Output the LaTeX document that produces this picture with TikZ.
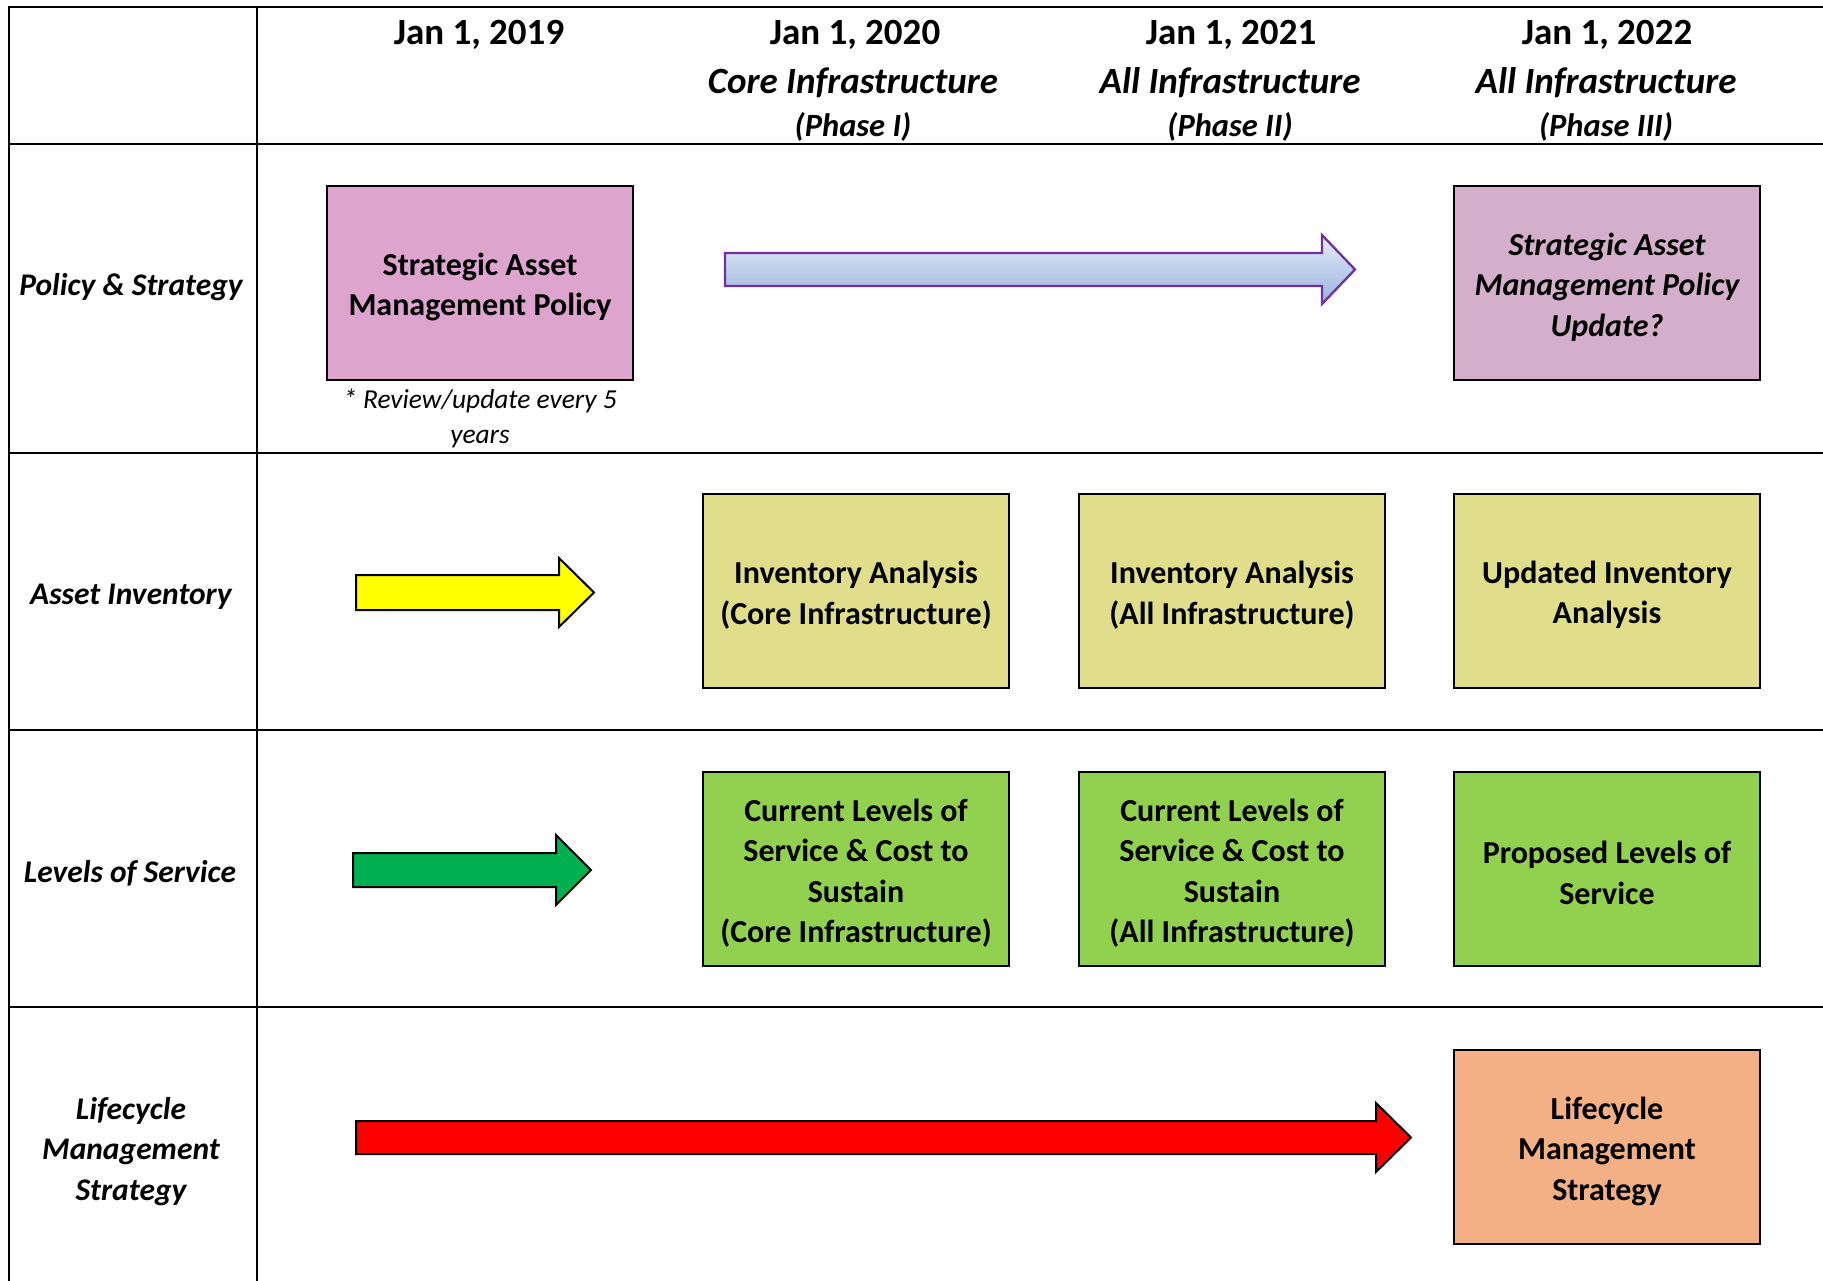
\documentclass[tikz,border=0pt]{standalone}
\usepackage{fontspec}
\setmainfont{Carlito}
\newcommand\bxfont{\fontsize{32}{40.5}\selectfont\bfseries}
\newcommand\hdfont{\fontsize{37}{44}\selectfont\bfseries}
\newcommand\phfont{\fontsize{32.5}{40}\selectfont\bfseries\itshape}
\newcommand\rlfont{\fontsize{31.5}{40.5}\selectfont\bfseries\itshape}
\newcommand\ntfont{\fontsize{27.4}{35}\selectfont\itshape}
\definecolor{pinkbox}{HTML}{DDA5CE}
\definecolor{mauvebox}{HTML}{D3AFCB}
\definecolor{khakibox}{HTML}{E0DE8B}
\definecolor{greenbox}{HTML}{92D050}
\definecolor{orangebox}{HTML}{F3B084}
\definecolor{arrowyellow}{HTML}{FFFF00}
\definecolor{arrowgreen}{HTML}{00B050}
\definecolor{arrowred}{HTML}{FF0000}
\definecolor{arrowpurple}{HTML}{7030A0}
\definecolor{bluetop}{HTML}{E6ECF8}
\definecolor{bluebot}{HTML}{98B2DE}
\tikzset{
  gridline/.style={line width=2pt, black},
  box/.style={draw=black, line width=2pt, minimum width=306, minimum height=194,
              align=center, inner sep=0pt, font=\bxfont},
  boxtext/.style={align=center, inner sep=0pt, font=\bxfont, yshift=-4pt},
  rowlabel/.style={align=center, inner sep=0pt, font=\rlfont, yshift=-2.5pt},
  blockarrow/.style={draw=black, line width=2pt, line join=miter},
  hdtext/.style={anchor=base, inner sep=0pt}
}
\begin{document}
\begin{tikzpicture}[x=1pt,y=-1pt]
\useasboundingbox (0,0) rectangle (1823,1281);
\fill[white] (0,0) rectangle (1823,1281);

% table rules
\foreach \yy in {7,144,453,730,1007}
  \draw[gridline] (9,\yy) -- (1830,\yy);
\foreach \xx in {9,257}
  \draw[gridline] (\xx,6) -- (\xx,1290);

% column headings
\node[hdtext, font=\hdfont] (h19) at (479,45) {Jan 1, 2019};
\node[hdtext, font=\hdfont] (h20) at (855,45) {Jan 1, 2020};
\node[hdtext, font=\hdfont] (h21) at (1231,45) {Jan 1, 2021};
\node[hdtext, font=\hdfont] (h22) at (1607,45) {Jan 1, 2022};
\node[hdtext, font=\hdfont\itshape] (s20) at (853,93.5) {Core Infrastructure};
\node[hdtext, font=\hdfont\itshape] (s21) at (1230,93.5) {All Infrastructure};
\node[hdtext, font=\hdfont\itshape] (s22) at (1606,93.5) {All Infrastructure};
\node[hdtext, font=\phfont] (p20) at (853,136.5) {(Phase I)};
\node[hdtext, font=\phfont] (p21) at (1230,136.5) {(Phase II)};
\node[hdtext, font=\phfont] (p22) at (1606,136.5) {(Phase III)};

% row labels
\node[rowlabel] (rpol) at (131,285) {Policy \& Strategy};
\node[rowlabel] (rinv) at (131,594) {Asset Inventory};
\node[rowlabel] (rlos) at (130,871) {Levels of Service};
\node[rowlabel] (rlcm) at (131,1149) {Lifecycle\\Management\\Strategy};

% boxes (frames, then centred text)
\foreach \nm/\cx/\cy/\col in {pol/480/283/pinkbox, polup/1607/283/mauvebox,
    inv1/856/591/khakibox, inv2/1232/591/khakibox, inv3/1607/591/khakibox,
    los1/856/869/greenbox, los2/1232/869/greenbox, los3/1607/869/greenbox,
    lcm/1607/1147/orangebox}
  \node[box, fill=\col] (\nm) at (\cx,\cy) {};

\node[boxtext] (tpol) at (pol) {Strategic Asset\\Management Policy};
\node[boxtext, font=\bxfont\itshape] (tpolup) at (polup) {Strategic Asset\\Management Policy\\Update?};
\node[boxtext] (tinv1) at (inv1) {Inventory Analysis\\(Core Infrastructure)};
\node[boxtext] (tinv2) at (inv2) {Inventory Analysis\\(All Infrastructure)};
\node[boxtext] (tinv3) at (inv3) {Updated Inventory\\Analysis};
\node[boxtext] (tlos1) at (los1) {Current Levels of\\Service \& Cost to\\Sustain\\(Core Infrastructure)};
\node[boxtext] (tlos2) at (los2) {Current Levels of\\Service \& Cost to\\Sustain\\(All Infrastructure)};
\node[boxtext] (tlos3) at (los3) {Proposed Levels of\\Service};
\node[boxtext] (tlcm) at (lcm) {Lifecycle\\Management\\Strategy};

% review note under the policy box
\node[anchor=base, inner sep=0pt, font=\ntfont] (note1) at (480,408) {* Review/update every 5};
\node[anchor=base, inner sep=0pt, font=\ntfont] (note2) at (480,443) {years};

% block arrows
\filldraw[blockarrow, draw=arrowpurple, top color=bluetop, bottom color=bluebot, line width=2.3pt]
  (725,253) -- (1322,253) -- (1322,235) -- (1355,269.5) -- (1322,304) -- (1322,286) -- (725,286) -- cycle;
\filldraw[blockarrow, fill=arrowyellow]
  (356,575) -- (559,575) -- (559,558) -- (594,592.5) -- (559,627) -- (559,610) -- (356,610) -- cycle;
\filldraw[blockarrow, fill=arrowgreen]
  (353,853) -- (556,853) -- (556,835) -- (591,870) -- (556,905) -- (556,887) -- (353,887) -- cycle;
\filldraw[blockarrow, fill=arrowred]
  (356,1121) -- (1376,1121) -- (1376,1103) -- (1411,1137.5) -- (1376,1172) -- (1376,1154) -- (356,1154) -- cycle;
\end{tikzpicture}
\end{document}
